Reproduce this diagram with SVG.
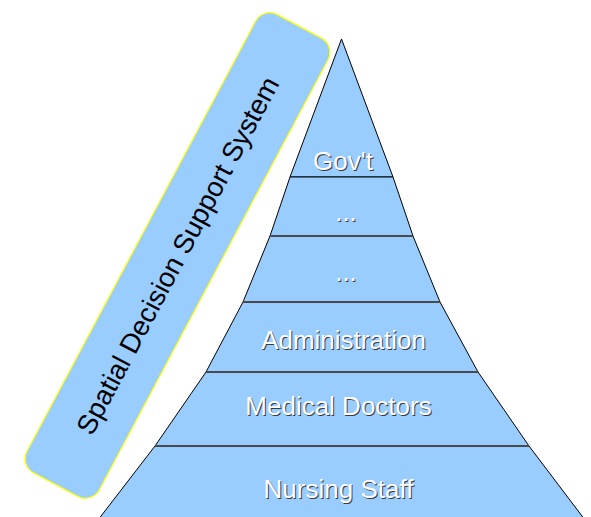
<svg xmlns="http://www.w3.org/2000/svg" width="591" height="517" viewBox="0 0 591 517">
  <style>
    .tier { fill: #99ccff; stroke: #000000; stroke-width: 1; stroke-linejoin: round; }
    .divider { stroke: #4a4a4a; stroke-width: 2; }
    .label { font-family: "Liberation Sans", Arial, sans-serif; font-size: 26px; text-anchor: middle; }
    .shadow { fill: #3a3a3a; }
    .white { fill: #ffffff; }
    .band { fill: #99ccff; stroke: #ffff00; stroke-width: 1.2; }
    .band-text { font-family: "Liberation Sans", Arial, sans-serif; font-size: 27.5px; fill: #000000; text-anchor: middle; }
  </style>

  <rect width="591" height="517" fill="#ffffff"/>

  <!-- rotated side band -->
  <g id="sdss">
    <g transform="translate(177.5 255.5) rotate(-62)">
      <rect class="band" x="-259.5" y="-41" width="519" height="82" rx="16" ry="16"/>
      <text class="band-text" x="0" y="9.5">Spatial Decision Support System</text>
    </g>
  </g>

  <!-- pyramid tiers, top to bottom -->
  <g id="tier-govt">
    <polygon class="tier" points="341.5,39 393,177 290,177"/>
    <text class="label shadow" x="344" y="171">Gov't</text>
    <text class="label white" x="343" y="170">Gov't</text>
  </g>
  <g id="tier-level2">
    <polygon class="tier" points="290,177 393,177 413,236 270,236"/>
    <text class="label shadow" x="347" y="222">...</text>
    <text class="label white" x="346" y="221">...</text>
  </g>
  <g id="tier-level3">
    <polygon class="tier" points="270,236 413,236 440,302 243,302"/>
    <text class="label shadow" x="347" y="282">...</text>
    <text class="label white" x="346" y="281">...</text>
  </g>
  <g id="tier-administration">
    <polygon class="tier" points="243,302 440,302 478,372 206,372"/>
    <text class="label shadow" x="344.5" y="350">Administration</text>
    <text class="label white" x="343.5" y="349">Administration</text>
  </g>
  <g id="tier-medical">
    <polygon class="tier" points="206,372 478,372 529,446 155,446"/>
    <text class="label shadow" x="339.5" y="416">Medical Doctors</text>
    <text class="label white" x="338.5" y="415">Medical Doctors</text>
  </g>
  <g id="tier-nursing">
    <polygon class="tier" points="155,446 529,446 585,520 98,520"/>
    <text class="label shadow" x="339.5" y="499">Nursing Staff</text>
    <text class="label white" x="338.5" y="498">Nursing Staff</text>
  </g>

  <!-- tier dividers -->
  <g id="dividers">
    <line class="divider" x1="270" y1="236" x2="413" y2="236" stroke-width="2.5"/>
    <line class="divider" x1="243" y1="302" x2="440" y2="302" stroke-width="1.5"/>
    <line class="divider" x1="206" y1="372" x2="478" y2="372"/>
    <line class="divider" x1="155" y1="446" x2="529" y2="446"/>
  </g>
</svg>
